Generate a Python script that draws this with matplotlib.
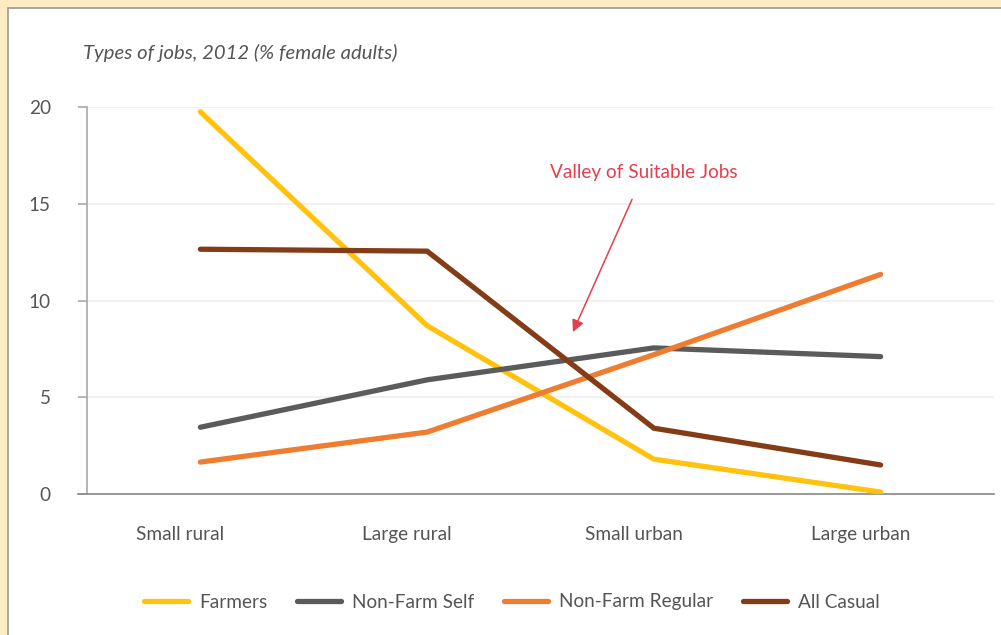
# -*- coding: utf-8 -*-
import matplotlib
matplotlib.use("Agg")
import matplotlib.pyplot as plt
from matplotlib.patches import Rectangle
from matplotlib.transforms import ScaledTranslation

# -----------------------------
# datos
# -----------------------------
categorias = ["Small rural", "Large rural", "Small urban", "Large urban"]
farmers = [19.75, 8.7, 1.8, 0.1]
nonfarm_self = [3.45, 5.9, 7.55, 7.1]
nonfarm_regular = [1.65, 3.2, 7.2, 11.35]
all_casual = [12.65, 12.55, 3.4, 1.5]
y_ticks = [0, 5, 10, 15, 20]

series = [
    ("Farmers", farmers, "#FFC20E"),
    ("Non-Farm Self", nonfarm_self, "#5B5B5B"),
    ("Non-Farm Regular", nonfarm_regular, "#EE7D31"),
    ("All Casual", all_casual, "#843C17"),
]

plt.rcParams["font.family"] = ["Lato", "DejaVu Sans"]
texto = "#555555"
fs = 13.7

fig = plt.figure(figsize=(10.01, 6.35), dpi=100)
fig.patch.set_facecolor("#FEEBC1")
# panel blanco con borde gris (detrás de los ejes)
fig.patches.append(Rectangle((8 / 1001, -0.1), 1.2, (627 / 635) + 0.1,
                             transform=fig.transFigure, facecolor="white",
                             edgecolor="#9A9A9A", linewidth=1.2, zorder=-5))

ax = fig.add_axes([87 / 1001, 141 / 635, 907 / 1001, 387 / 635])
ax.set_facecolor("none")
ax.set_zorder(2)

x = list(range(len(categorias)))
for nombre, valores, color in series:
    ax.plot(x, valores, color=color, linewidth=3.8, label=nombre,
            solid_capstyle="round", solid_joinstyle="miter", zorder=3)

ax.set_xlim(-0.5, 3.5)
ax.set_ylim(0, 20)
ax.set_yticks(y_ticks)
ax.set_yticklabels([str(v) for v in y_ticks])
ax.grid(axis="y", color="#F1F1F1", linewidth=1.5, zorder=0)
ax.set_axisbelow(True)

for s in ["top", "right"]:
    ax.spines[s].set_visible(False)
ax.spines["left"].set_color("#A8A8A8")
ax.spines["bottom"].set_color("#8A8A8A")
ax.spines["left"].set_linewidth(1.2)
ax.spines["bottom"].set_linewidth(1.2)
ax.spines["bottom"].set_bounds(-0.5 - 9 / 227, 3.5)

ax.tick_params(axis="y", length=6.5, width=1.2, color="#A8A8A8", pad=19.5,
               labelsize=fs, labelcolor=texto)
ax.set_xticks(x)
ax.set_xticklabels(categorias)
ax.tick_params(axis="x", length=0, pad=23, labelsize=fs, labelcolor=texto)
desplazo = ScaledTranslation(-20 / 100, 0, fig.dpi_scale_trans)
for lbl in ax.get_xticklabels():
    lbl.set_transform(lbl.get_transform() + desplazo)

fig.text(83 / 1001, 1 - 53 / 635, "Types of jobs, 2012 (% female adults)",
         fontsize=14.6, style="italic", color=texto, va="center", ha="left")

ax.annotate("Valley of Suitable Jobs", xy=(1.643, 8.37), xytext=(1.956, 16.6),
            ha="center", va="center", fontsize=fs, color="#E2404E",
            arrowprops=dict(arrowstyle="-|>", color="#E2404E", lw=1.1,
                            shrinkA=12, shrinkB=0, mutation_scale=18))

fig.legend(loc="center", bbox_to_anchor=(512 / 1001, 33 / 635), ncol=4,
           frameon=False, fontsize=fs, handlelength=2.3, handletextpad=0.6,
           columnspacing=1.55, labelcolor=texto)

fig.savefig("out.png", dpi=100, facecolor=fig.get_facecolor())
